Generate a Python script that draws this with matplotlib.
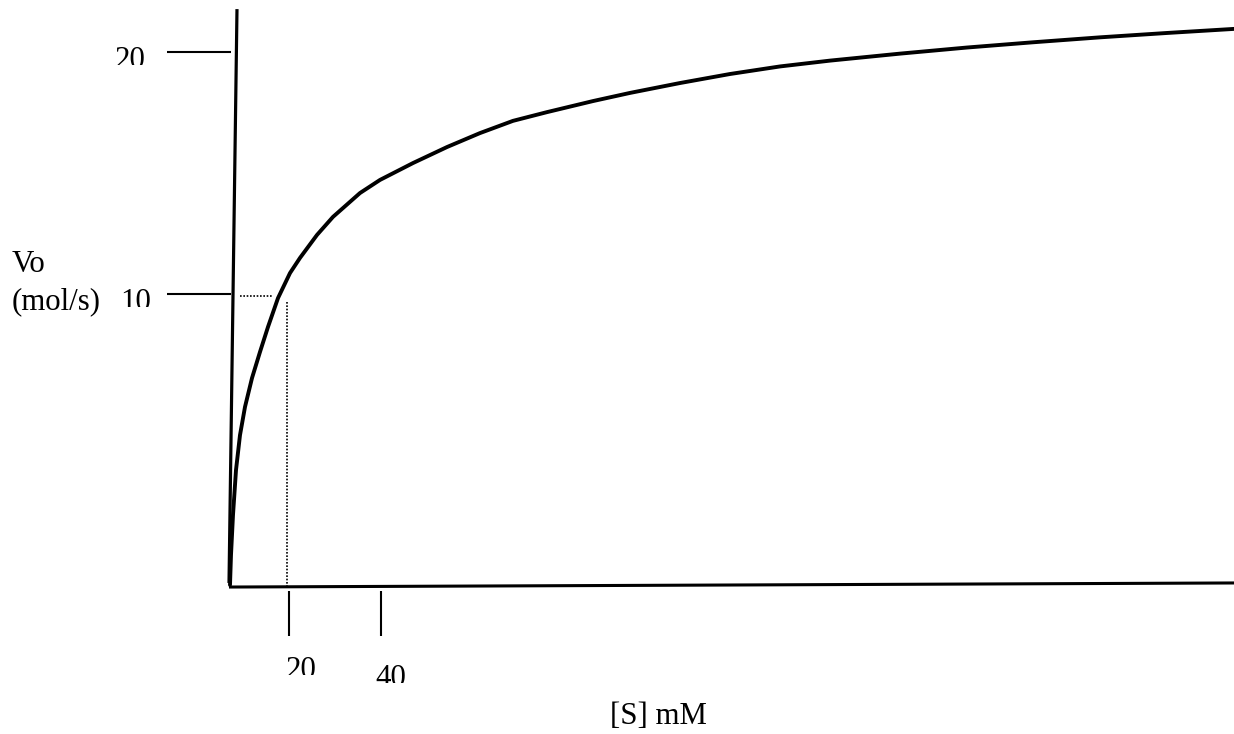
import matplotlib.pyplot as plt
from matplotlib.transforms import Bbox, TransformedBbox

# Substrate concentration [S] (mM) and initial velocity Vo (mol/s)
substrate = [0, 0.33, 1.0, 2.0, 3.33, 5.0, 7.33, 10.0, 12.67, 16.0, 20.0, 23.33, 29.0,
             34.33, 43.33, 50.0, 61.0, 72.33, 83.33, 94.33, 105.67, 121.0, 133.33,
             150.0, 166.67, 183.33, 200.0, 223.33, 245.67, 267.67, 290.0, 312.33, 334.67]
velocity = [0, 1.03, 2.41, 3.95, 5.15, 6.12, 7.11, 8.01, 8.87, 9.86, 10.72, 11.24, 12.03,
            12.65, 13.47, 13.92, 14.50, 15.05, 15.53, 15.95, 16.25, 16.63, 16.91,
            17.25, 17.56, 17.82, 18.02, 18.26, 18.47, 18.65, 18.82, 18.97, 19.11]

# hand drawn ticks (positions as drawn, labels as written)
x_tick_pos = [19.67, 50.33]
x_tick_labels = ["20", "40"]
y_tick_pos = [18.32, 10.0]
y_tick_labels = ["20", "10"]

# the dotted guide lines for Vmax/2 and Km
km_mark = 19.0
half_vmax = 9.93

plt.rcParams["font.family"] = ["Liberation Serif", "DejaVu Serif"]
FS = 22.2
PX_X = 3.0     # pixels per mM
PX_Y = 29.1    # pixels per mol/s

fig = plt.figure(figsize=(12.34, 7.34), dpi=100)
ax = fig.add_axes([0, 0, 1, 1])
ax.set_xlim(-230 / PX_X, (1234 - 230) / PX_X)
ax.set_ylim(-(734 - 585) / PX_Y, 585 / PX_Y)
ax.axis("off")

# slanted hand drawn axes
ax.plot([-0.33, 2.33], [0.07, 19.79], color="black", lw=2.3, solid_capstyle="butt")
ax.plot([-0.33, 334.67], [-0.07, 0.07], color="black", lw=2.2, solid_capstyle="butt")

# tick marks
ax.hlines(y_tick_pos, -21.0, 0.2, color="black", lw=1.5)
ax.vlines(x_tick_pos, -0.2, -1.75, color="black", lw=1.5)

# dotted guides
ax.plot([3.33, 14.33], [half_vmax, half_vmax], color="black", lw=1.2, linestyle=(0, (1, 1)))
ax.plot([km_mark, km_mark], [9.73, -0.07], color="black", lw=1.2, linestyle=(0, (1, 1)))

# the curve
ax.plot(substrate, velocity, color="black", lw=2.8, solid_joinstyle="round",
        solid_capstyle="round")


def clipped_text(x, y, s, ha):
    # the labels in the original are cut off just above their baseline
    t = ax.text(x, y, s, fontsize=FS, ha=ha, va="baseline")
    box = Bbox([[x - 40, y + 3 / PX_Y], [x + 40, y + 40]])
    t.set_clip_box(TransformedBbox(box, ax.transData))
    t.set_clip_on(True)
    return t


# tick labels
y_label_x = [-33.33, -31.33]
y_label_y = [17.77, 9.45]
for lx, ly, lab in zip(y_label_x, y_label_y, y_tick_labels):
    clipped_text(lx, ly, lab, "center")

x_label_x = [23.67, 53.67]
x_label_y = [-3.20, -3.47]
for lx, ly, lab in zip(x_label_x, x_label_y, x_tick_labels):
    clipped_text(lx, ly, lab, "center")

# axis titles
ax.text(-72.67, 10.76, "Vo", fontsize=FS, ha="left", va="baseline")
ax.text(-72.67, 9.48, "(mol/s)", fontsize=FS, ha="left", va="baseline")
ax.text(126.67, -4.78, "[S] mM", fontsize=FS, ha="left", va="baseline")

fig.savefig("out.png", dpi=100)
